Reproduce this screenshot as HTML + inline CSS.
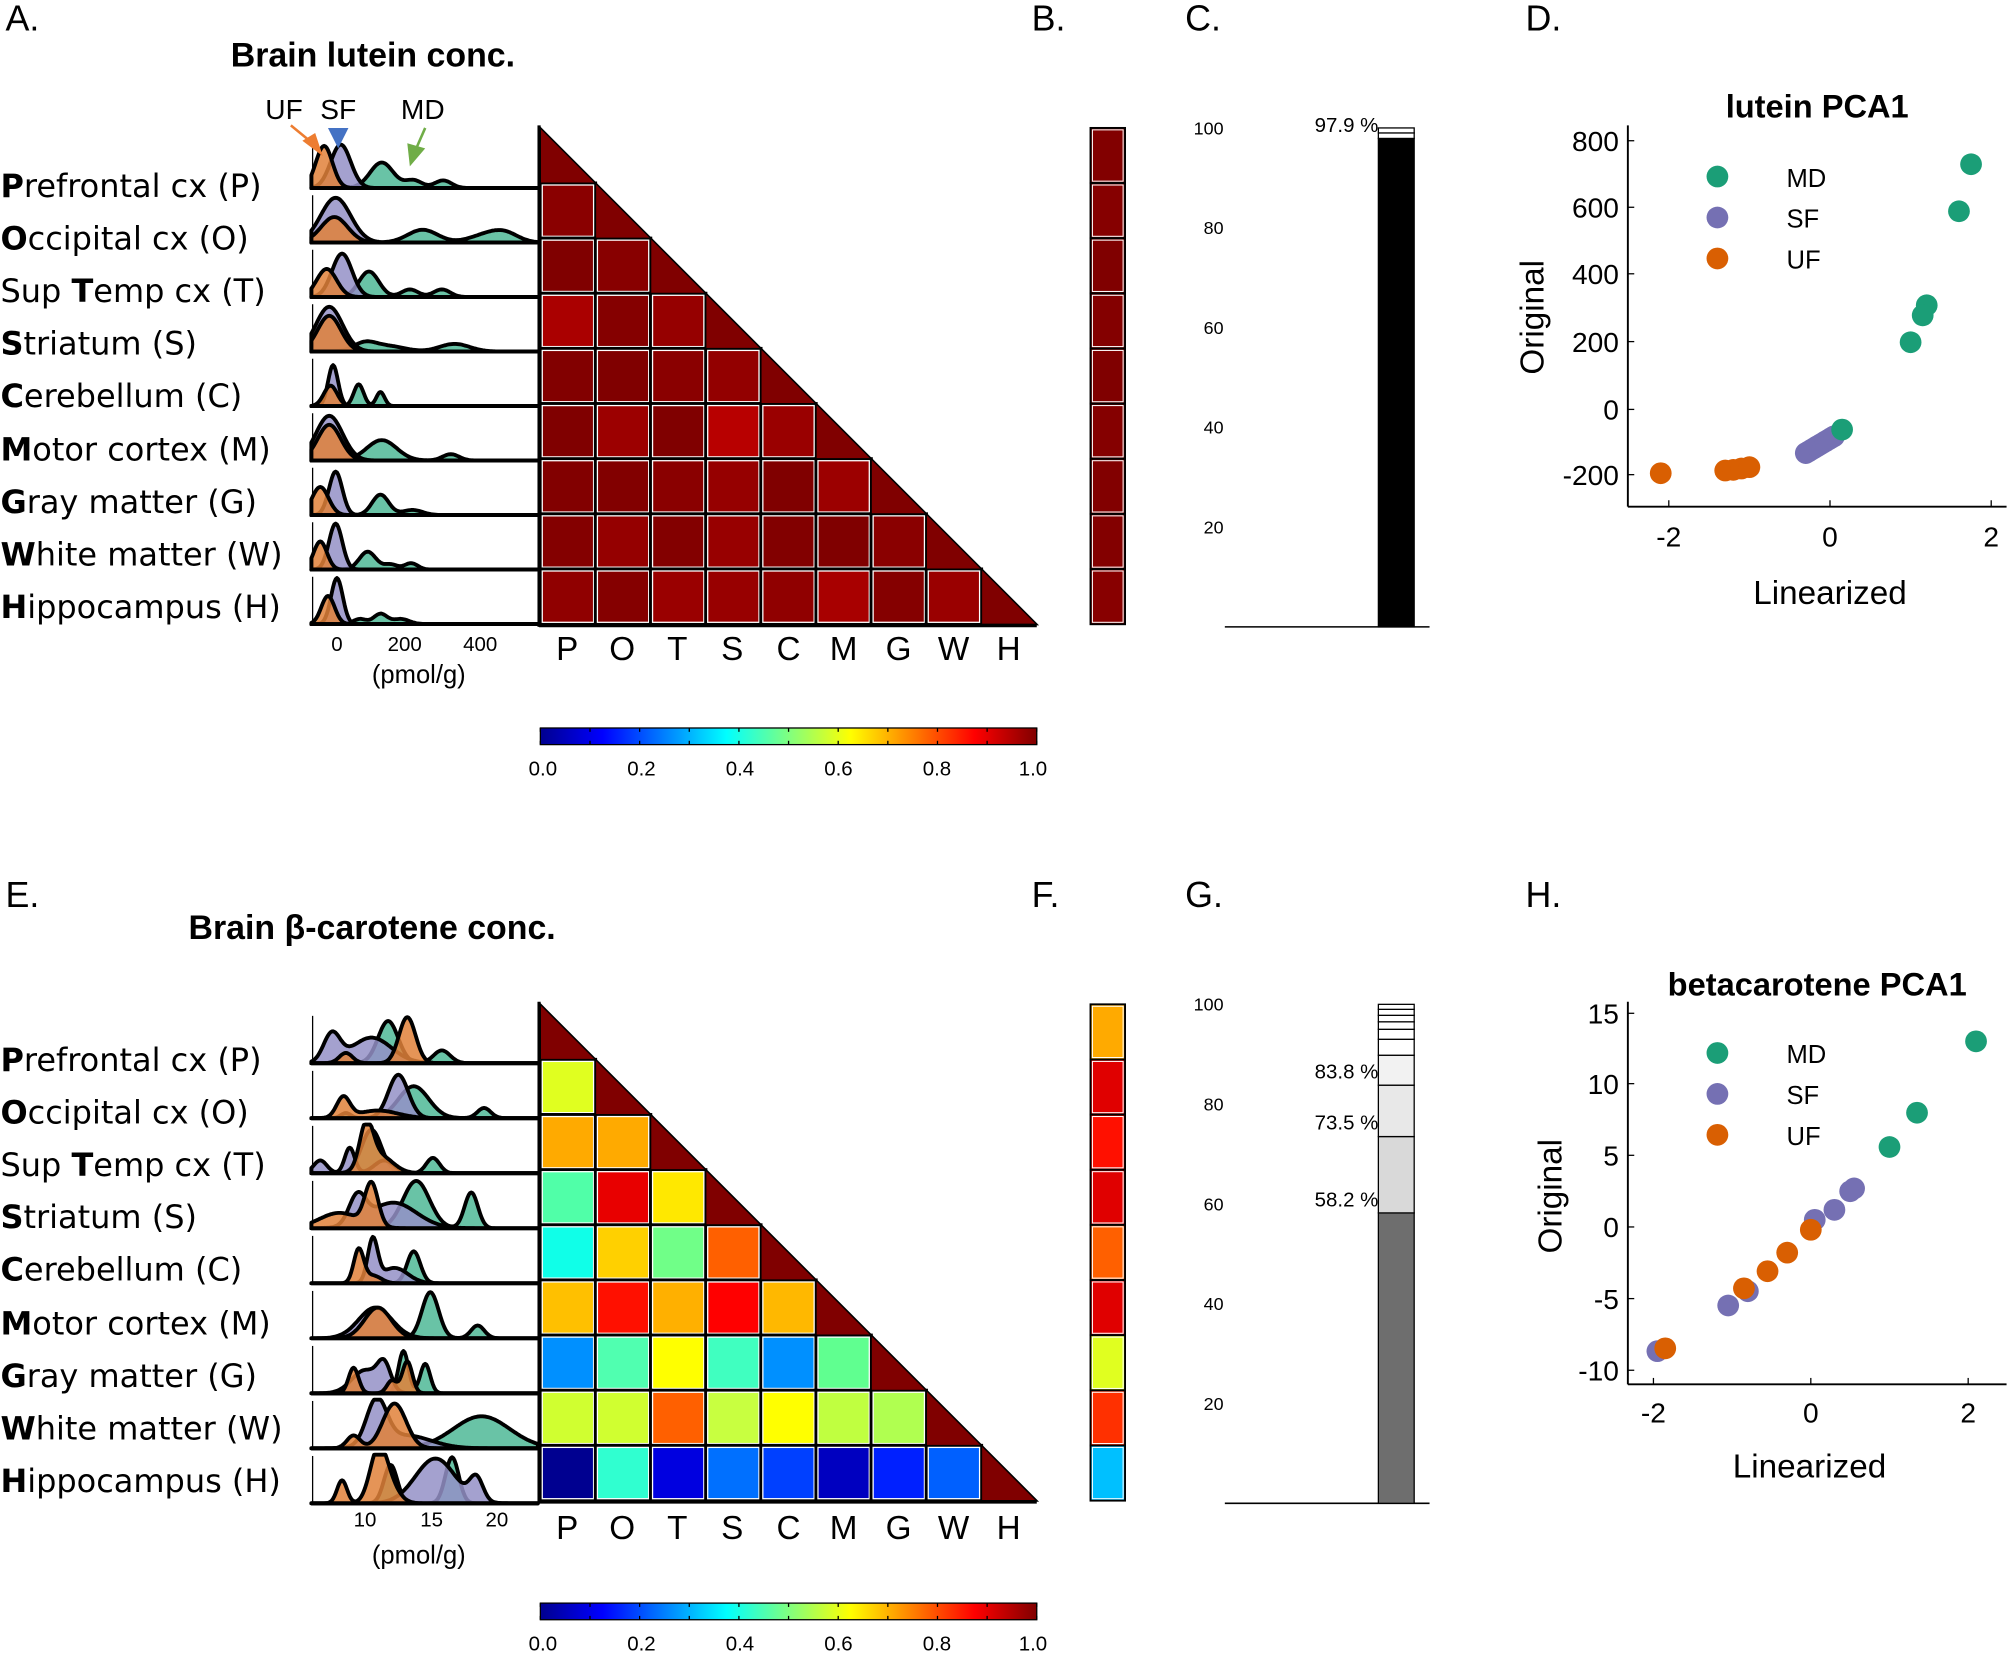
<!DOCTYPE html>
<html><head><meta charset="utf-8"><style>
html,body{margin:0;padding:0;background:#fff;}
svg{display:block;font-family:"Liberation Sans",sans-serif;}
.lab{font-family:"DejaVu Sans","Liberation Sans",sans-serif;font-size:25px;}
</style></head><body>
<svg id="s" width="2007" height="1653" viewBox="0 0 1568 1292" xmlns="http://www.w3.org/2000/svg">
<defs>
<linearGradient id="jet" x1="0" x2="1" y1="0" y2="0">
<stop offset="0" stop-color="#00008f"/><stop offset="0.125" stop-color="#0000ff"/><stop offset="0.375" stop-color="#00ffff"/><stop offset="0.625" stop-color="#ffff00"/><stop offset="0.875" stop-color="#ff0000"/><stop offset="1" stop-color="#800000"/>
</linearGradient>
</defs>
<g id="shapes"></g>
<g font-size="28">
<text x="4" y="24">A.</text><text x="806" y="24">B.</text><text x="926" y="24">C.</text><text x="1192" y="24">D.</text>
<text x="4" y="709">E.</text><text x="806" y="709">F.</text><text x="926" y="709">G.</text><text x="1192" y="709">H.</text>
</g>
<text x="180" y="52" font-size="26.5" font-weight="bold">Brain lutein conc.</text>
<text x="147" y="734" font-size="26.5" font-weight="bold">Brain β-carotene conc.</text>
<g font-size="22"><text x="207" y="93">UF</text><text x="250" y="93">SF</text><text x="313" y="93">MD</text></g>
<g class="lab">
<text x="0" y="154"><tspan font-weight="bold">P</tspan>refrontal cx (P)</text>
<text x="0" y="195"><tspan font-weight="bold">O</tspan>ccipital cx (O)</text>
<text x="0" y="236">Sup <tspan font-weight="bold">T</tspan>emp cx (T)</text>
<text x="0" y="277"><tspan font-weight="bold">S</tspan>triatum (S)</text>
<text x="0" y="318"><tspan font-weight="bold">C</tspan>erebellum (C)</text>
<text x="0" y="360"><tspan font-weight="bold">M</tspan>otor cortex (M)</text>
<text x="0" y="401"><tspan font-weight="bold">G</tspan>ray matter (G)</text>
<text x="0" y="442"><tspan font-weight="bold">W</tspan>hite matter (W)</text>
<text x="0" y="483"><tspan font-weight="bold">H</tspan>ippocampus (H)</text>
<text x="0" y="837"><tspan font-weight="bold">P</tspan>refrontal cx (P)</text>
<text x="0" y="878"><tspan font-weight="bold">O</tspan>ccipital cx (O)</text>
<text x="0" y="919">Sup <tspan font-weight="bold">T</tspan>emp cx (T)</text>
<text x="0" y="960"><tspan font-weight="bold">S</tspan>triatum (S)</text>
<text x="0" y="1001"><tspan font-weight="bold">C</tspan>erebellum (C)</text>
<text x="0" y="1043"><tspan font-weight="bold">M</tspan>otor cortex (M)</text>
<text x="0" y="1084"><tspan font-weight="bold">G</tspan>ray matter (G)</text>
<text x="0" y="1125"><tspan font-weight="bold">W</tspan>hite matter (W)</text>
<text x="0" y="1166"><tspan font-weight="bold">H</tspan>ippocampus (H)</text>
</g>
<g font-size="16" text-anchor="middle">
<text x="263" y="509">0</text><text x="316" y="509">200</text><text x="375" y="509">400</text>
<text x="285" y="1193">10</text><text x="337" y="1193">15</text><text x="388" y="1193">20</text>
</g>
<g font-size="20" text-anchor="middle"><text x="327" y="534">(pmol/g)</text><text x="327" y="1222">(pmol/g)</text></g>
<g font-size="26" text-anchor="middle">
<text x="443" y="516">P</text><text x="486" y="516">O</text><text x="529" y="516">T</text><text x="572" y="516">S</text><text x="616" y="516">C</text><text x="659" y="516">M</text><text x="702" y="516">G</text><text x="745" y="516">W</text><text x="788" y="516">H</text>
<text x="443" y="1203">P</text><text x="486" y="1203">O</text><text x="529" y="1203">T</text><text x="572" y="1203">S</text><text x="616" y="1203">C</text><text x="659" y="1203">M</text><text x="702" y="1203">G</text><text x="745" y="1203">W</text><text x="788" y="1203">H</text>
</g>
<g font-size="16" text-anchor="middle">
<text x="424" y="606">0.0</text><text x="501" y="606">0.2</text><text x="578" y="606">0.4</text><text x="655" y="606">0.6</text><text x="732" y="606">0.8</text><text x="807" y="606">1.0</text>
<text x="424" y="1290">0.0</text><text x="501" y="1290">0.2</text><text x="578" y="1290">0.4</text><text x="655" y="1290">0.6</text><text x="732" y="1290">0.8</text><text x="807" y="1290">1.0</text>
</g>
<g font-size="14" text-anchor="end">
<text x="956" y="105">100</text><text x="956" y="183">80</text><text x="956" y="261">60</text><text x="956" y="339">40</text><text x="956" y="417">20</text>
<text x="956" y="790">100</text><text x="956" y="868">80</text><text x="956" y="946">60</text><text x="956" y="1024">40</text><text x="956" y="1102">20</text>
</g>
<g font-size="16" text-anchor="end">
<text x="1077" y="103">97.9 %</text>
<text x="1077" y="843">83.8 %</text><text x="1077" y="883">73.5 %</text><text x="1077" y="943">58.2 %</text>
</g>
<text x="1420" y="92" font-size="25.5" font-weight="bold" text-anchor="middle">lutein PCA1</text>
<text x="1420" y="778" font-size="25.5" font-weight="bold" text-anchor="middle">betacarotene PCA1</text>
<g font-size="22" text-anchor="end">
<text x="1265" y="118">800</text><text x="1265" y="170">600</text><text x="1265" y="222">400</text><text x="1265" y="275">200</text><text x="1265" y="328">0</text><text x="1265" y="379">-200</text>
<text x="1265" y="800">15</text><text x="1265" y="855">10</text><text x="1265" y="911">5</text><text x="1265" y="967">0</text><text x="1265" y="1023">-5</text><text x="1265" y="1079">-10</text>
</g>
<g font-size="22" text-anchor="middle">
<text x="1304" y="427">-2</text><text x="1430" y="427">0</text><text x="1556" y="427">2</text>
<text x="1292" y="1112">-2</text><text x="1415" y="1112">0</text><text x="1538" y="1112">2</text>
</g>
<g font-size="26" text-anchor="middle">
<text x="1430" y="472">Linearized</text><text x="1414" y="1155">Linearized</text>
<text transform="translate(1206,248) rotate(-90)">Original</text>
<text transform="translate(1220,935) rotate(-90)">Original</text>
</g>
<g font-size="20">
<text x="1396" y="146">MD</text><text x="1396" y="178">SF</text><text x="1396" y="210">UF</text>
<text x="1396" y="831">MD</text><text x="1396" y="863">SF</text><text x="1396" y="895">UF</text>
</g>
</svg>
<script>
var NS="http://www.w3.org/2000/svg",G=document.getElementById("shapes");
function el(t,a){var e=document.createElementNS(NS,t);for(var k in a)e.setAttribute(k,a[k]);G.appendChild(e);return e;}
var CW=43.1;
function heat(top,M){
 el("polygon",{points:"422,"+top+" 810,"+(top+388)+" 422,"+(top+388),fill:"#800000",stroke:"#000","stroke-width":1.5});
 for(var i=1;i<9;i++)for(var j=0;j<i;j++){
  var x=422+j*CW,y=top+i*CW;
  el("rect",{x:x,y:y,width:CW,height:CW,fill:M[i-1][j],stroke:"#000","stroke-width":2.5});
  el("rect",{x:x+1.5,y:y+1.5,width:CW-3,height:CW-3,fill:"none",stroke:"#fff","stroke-width":1});
 }
 for(var i=0;i<9;i++){var x=422+i*CW,y=top+i*CW;
  el("polygon",{points:x+","+y+" "+(x+CW)+","+(y+CW)+" "+x+","+(y+CW),fill:"#800000",stroke:"#000","stroke-width":1});}
 el("line",{x1:421,y1:top-2,x2:421,y2:top+390,stroke:"#000","stroke-width":2.5});
 el("line",{x1:421,y1:top+389,x2:810,y2:top+389,stroke:"#000","stroke-width":2.5});
}
var L=[["#8a0000"],["#800000","#880000"],["#aa0000","#850000","#960000"],["#820000","#800000","#8a0000","#930000"],["#800000","#9c0000","#800000","#b80000","#9a0000"],["#820000","#820000","#8a0000","#960000","#800000","#9c0000"],["#840000","#950000","#830000","#980000","#820000","#800000","#8a0000"],["#900000","#850000","#9a0000","#980000","#900000","#a80000","#850000","#9a0000"]];
var B=[["#e0ff20"],["#ffaa00","#ffaa00"],["#50ffa8","#e80000","#ffe800"],["#10ffe8","#ffd000","#70ff88","#ff6000"],["#ffc000","#ff1000","#ffb000","#ff0000","#ffb800"],["#0090ff","#50ffb0","#ffff00","#40ffc0","#0090ff","#60ff90"],["#d0ff30","#d0ff30","#ff6000","#c8ff40","#ffff00","#c0ff40","#b0ff50"],["#000090","#30ffd0","#0000e0","#0070ff","#0040ff","#0000c0","#0020ff","#0060ff"]];
heat(100,L);heat(785,B);
function col(top,cs){for(var i=0;i<9;i++){el("rect",{x:852,y:top+i*CW,width:27,height:CW,fill:cs[i],stroke:"#000","stroke-width":1.5});el("rect",{x:853.5,y:top+i*CW+1.5,width:24,height:CW-3,fill:"none",stroke:"#fff","stroke-width":0.8});}}
col(100,["#820000","#860000","#800000","#840000","#800000","#850000","#820000","#830000","#880000"]);
col(785,["#ffaa00","#e00000","#ff1000","#e00000","#ff6000","#e00000","#e0ff20","#ff3000","#00c0ff"]);
function cbar(y){el("rect",{x:422,y:y,width:388,height:13,fill:"url(#jet)",stroke:"#000","stroke-width":1});
 for(var k=0;k<=10;k++){var x=422+38.8*k;el("line",{x1:x,y1:y,x2:x,y2:y+3,stroke:"#000","stroke-width":1});el("line",{x1:x,y1:y+13,x2:x,y2:y+10,stroke:"#000","stroke-width":1});}}
cbar(569);cbar(1253);
var CMD="#4fb896",CSF="#9491c7",CUF="#e0813a";
function ridge(base,g,xs){
 var order=[["MD",CMD],["SF",CSF],["UF",CUF]];
 order.forEach(function(o){var gs=g[o[0]];var d="M243,"+base;
  for(var x=243;x<=xs;x+=1){var v=0;gs.forEach(function(q){v+=q[1]*Math.exp(-Math.pow((x-q[0])/(q[2]*1.3),2)/2);});d+=" L"+x+","+(base-Math.min(v,38)).toFixed(1);}
  d+=" L"+xs+","+base+"Z";
  el("path",{d:d,fill:o[1],"fill-opacity":0.85,stroke:"#000","stroke-width":3,"stroke-linejoin":"round"});});
 el("line",{x1:243,y1:base,x2:421,y2:base,stroke:"#000","stroke-width":3});
 el("line",{x1:244,y1:base,x2:244,y2:base-37,stroke:"#000","stroke-width":1});
}
var RL=[
{UF:[[253,33,5]],SF:[[266,34,6]],MD:[[298,20,7],[323,6,5],[346,6,5]]},
{UF:[[261,20,8]],SF:[[262,35,9]],MD:[[330,10,9],[380,6,10],[395,6,8]]},
{UF:[[255,22,6]],SF:[[267,34,6]],MD:[[288,20,6],[320,6,5],[345,6,5]]},
{UF:[[257,28,7]],SF:[[257,35,8]],MD:[[285,7,7],[305,4,9],[355,6,9]]},
{UF:[[258,16,4]],SF:[[260,32,3]],MD:[[280,17,3],[297,11,2.5]]},
{UF:[[257,28,7]],SF:[[257,35,8]],MD:[[298,16,9],[352,5,5]]},
{UF:[[250,22,5]],SF:[[262,34,4]],MD:[[297,16,5],[322,4,6]]},
{UF:[[250,22,4]],SF:[[262,36,4]],MD:[[287,14,5],[305,4,4],[321,5,4]]},
{UF:[[256,22,4]],SF:[[263,36,3.5]],MD:[[281,4,4],[297,8,4],[313,4,5]]}];
var RB=[
{SF:[[259,22,5],[290,20,12]],MD:[[303,33,6],[345,10,5]],UF:[[270,8,4],[318,36,5]]},
{UF:[[268,16,4],[295,6,12]],SF:[[311,34,6]],MD:[[270,4,3],[323,25,9],[378,8,4]]},
{SF:[[250,10,4],[273,20,3],[300,10,6]],MD:[[290,34,6],[338,12,4]],UF:[[286,33,4],[296,14,8]]},
{UF:[[265,12,12],[290,33,4]],SF:[[279,22,5],[307,20,14]],MD:[[325,37,8],[368,28,4]]},
{UF:[[280,26,3],[291,6,5]],SF:[[291,33,3],[308,12,8]],MD:[[323,25,4]]},
{SF:[[293,24,10]],UF:[[295,24,8]],MD:[[336,36,5],[373,10,4]]},
{SF:[[285,18,8],[300,20,4]],UF:[[276,20,3],[306,10,3],[318,25,3]],MD:[[315,33,3],[332,23,3]]},
{SF:[[294,35,6],[317,10,15]],UF:[[276,10,4],[308,35,7]],MD:[[376,25,17]]},
{UF:[[267,18,3],[295,36,5],[303,15,6]],SF:[[340,35,12],[372,18,4]],MD:[[305,30,4],[353,36,4]]}];
for(var i=0;i<9;i++){ridge(147+42.6*i,RL[i],420);ridge(831+43*i,RB[i],420);}
el("line",{x1:227,y1:98,x2:244,y2:112,stroke:"#ed7d31","stroke-width":2});
el("polygon",{points:"236,110 252,122 246,104",fill:"#ed7d31"});
el("polygon",{points:"256,100 272,100 264,116",fill:"#4472c4"});
el("line",{x1:332,y1:100,x2:325,y2:116,stroke:"#70ad47","stroke-width":2});
el("polygon",{points:"318,112 332,116 320,130",fill:"#70ad47"});
function bars(top,segs){var z=top+390;
 el("line",{x1:957,y1:z,x2:1117,y2:z,stroke:"#000","stroke-width":1.2});
 segs.forEach(function(s){var y1=z-3.9*s[1],y0=z-3.9*s[0];el("rect",{x:1077,y:y1,width:28,height:y0-y1,fill:s[2],stroke:"#000","stroke-width":1});});}
bars(100,[[0,97.9,"#000"],[97.9,99,"#fff"],[99,100,"#fff"]]);
bars(785,[[0,58.2,"#6e6e6e"],[58.2,73.5,"#d9d9d9"],[73.5,83.8,"#e8e8e8"],[83.8,89.8,"#f2f2f2"],[89.8,93,"#fff"],[93,95,"#fff"],[95,96.5,"#fff"],[96.5,97.8,"#fff"],[97.8,99,"#fff"],[99,100,"#fff"]]);
var GC="#1b9e77",PC="#7570b3",OC="#d95f02";
function ax(x0,y0,x1,y1,xt,yt){el("line",{x1:x0,y1:y0,x2:x0,y2:y1,stroke:"#000","stroke-width":1.5});el("line",{x1:x0,y1:y1,x2:x1,y2:y1,stroke:"#000","stroke-width":1.5});
 xt.forEach(function(x){el("line",{x1:x,y1:y1,x2:x,y2:y1-5,stroke:"#000"});});yt.forEach(function(y){el("line",{x1:x0,y1:y,x2:x0+5,y2:y,stroke:"#000"});});}
ax(1272,98,1568,396,[1304,1430,1556],[110,162,214,267,320,371]);
ax(1272,783,1568,1082,[1292,1415,1538],[792,847,903,959,1015,1071]);
function pt(x,y,c){el("circle",{cx:x,cy:y,r:8.5,fill:c});}
pt(1342,138,GC);pt(1342,170,PC);pt(1342,202,OC);pt(1342,823,GC);pt(1342,855,PC);pt(1342,887,OC);
function D(v,w,c){pt(1430+63*v,320-0.2625*w,c);}
[[-2.1,-190],[-1.3,-182],[-1.2,-180],[-1.1,-176],[-1.0,-172]].forEach(function(p){D(p[0],p[1],OC);});
for(var k=0;k<=10;k++)D(-0.3+0.035*k,-130+5*k,PC);
[[1.75,730],[1.6,590],[1.2,310],[1.15,280],[1.0,200],[0.15,-60]].forEach(function(p){D(p[0],p[1],GC);});
function H(v,w,c){pt(1415+61.5*v,959-11.16*w,c);}
[[2.1,13],[1.35,8],[1.0,5.6]].forEach(function(p){H(p[0],p[1],GC);});
[[-1.95,-8.7],[-1.05,-5.5],[-0.8,-4.5],[0.05,0.5],[0.3,1.2],[0.55,2.7],[0.5,2.5]].forEach(function(p){H(p[0],p[1],PC);});
[[-1.85,-8.5],[-0.85,-4.3],[-0.55,-3.1],[-0.3,-1.8],[0,-0.2]].forEach(function(p){H(p[0],p[1],OC);});
</script>
</body></html>
